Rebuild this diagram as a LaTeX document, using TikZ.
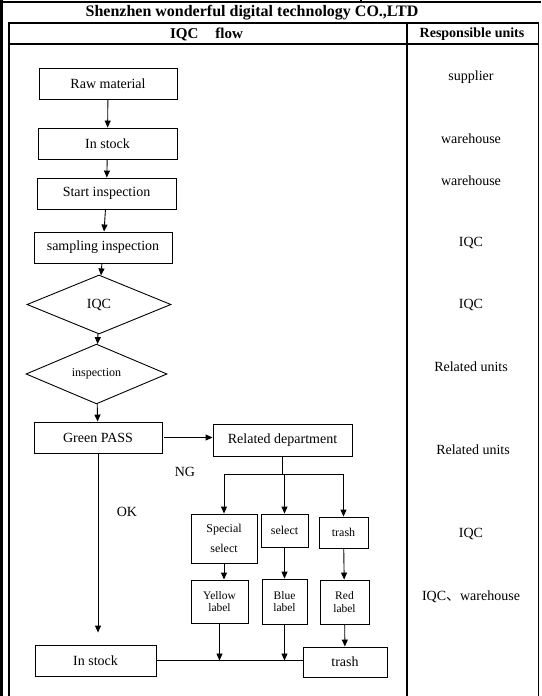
\documentclass[tikz,border=0pt]{standalone}
\usepackage{fontspec}
\setmainfont{Liberation Serif}
\newfontfamily\cjk{Noto Sans CJK SC}
\usetikzlibrary{arrows.meta,shapes.geometric}

\begin{document}
\begin{tikzpicture}[x=1pt, y=-1pt, font=\fontsize{14}{16}\selectfont, >={Triangle[length=7pt,width=6pt]},
	box/.style={draw, line width=0.9pt, inner sep=0pt, align=center},
	dia/.style={draw, diamond, line width=0.9pt, inner sep=0pt},
	frame/.style={line width=1.6pt},
	small/.style={font=\fontsize{12}{13}\selectfont},
	tiny/.style={font=\fontsize{11.5}{12.5}\selectfont},
	flow/.style={->, line width=0.9pt}]
	\useasboundingbox (0,0) rectangle (541,696);
	% table
	\fill (0,0) rectangle (3,696);
	\draw[frame] (3,2) -- (541,2);
	\draw[frame] (361,0) -- (361,2);
	\draw[frame] (9,696) -- (9,23) -- (538.5,23) -- (538.5,696);
	\draw[frame] (9,44) -- (538.5,44);
	\draw[frame] (407,23) -- (407,696);
	\node[font=\bfseries\fontsize{16}{18}\selectfont] (title) at (252,13) {Shenzhen wonderful digital technology CO.,LTD};
	\node[font=\bfseries\fontsize{15}{17}\selectfont] (hflow) at (206.5,34) {IQC\hspace{17pt}flow};
	\node[font=\bfseries\fontsize{14}{16}\selectfont] (hunits) at (472,34) {Responsible units};
	% flow
	\node[box, minimum width=138, minimum height=31] (raw) at (108,83.5) {Raw material};
	\node[box, minimum width=139, minimum height=31] (stock) at (107.5,143.5) {In stock};
	\node[box, minimum width=139, minimum height=31] (start) at (106.5,193.5) {Start inspection};
	\node[box, minimum width=138, minimum height=31] (sampling) at (103,247.5) {sampling inspection};
	\node[dia, minimum width=144, minimum height=59] (iqc) at (99,304.5) {IQC};
	\node[dia, small, minimum width=141, minimum height=52] (insp) at (96.5,374) {inspection};
	\node[box, minimum width=128, minimum height=31] (green) at (98,437.5) {Green PASS};
	\node[box, minimum width=139, minimum height=32] (related) at (282.5,440) {Related department};
	\node[box, small, minimum width=66, minimum height=49] (special) at (224,538.5) {Special\\[7pt]select};
	\node[box, small, minimum width=47, minimum height=33] (select) at (284.5,530.5) {select};
	\node[box, small, minimum width=49, minimum height=31] (trash) at (343.5,532.5) {trash};
	\node[box, tiny, minimum width=57, minimum height=43] (yellow) at (219.5,601.5) {Yellow\\label};
	\node[box, tiny, minimum width=45, minimum height=45] (blue) at (284.5,601.5) {Blue\\label};
	\node[box, tiny, minimum width=49, minimum height=44] (red) at (344.5,602) {Red\\label};
	\node[box, minimum width=121, minimum height=31] (instock) at (95.5,660.5) {In stock};
	\node[box, minimum width=84, minimum height=30] (bin) at (345,662) {trash};
	\node (ng) at (185,472) {NG};
	\node (ok) at (127,512) {OK};
	\coordinate (fork) at (282.5,474);
	% arrows
	\draw[flow] (raw) -- (stock);
	\draw[flow] (stock) -- (start);
	\draw[flow] (start) -- (sampling);
	\draw[flow] (sampling) -- (iqc);
	\draw[flow] (iqc) -- (insp);
	\draw[flow] (insp) -- (green);
	\draw[flow, shorten <=2pt] (green.east) -- (green.east -| related.west);
	\draw[line width=0.9pt] (related.south) -- (fork);
	\draw[line width=0.9pt] (fork -| special.north) -- (fork -| trash.north);
	\draw[flow] (fork -| special.north) -- (special.north);
	\draw[flow] (fork -| select.north) -- (select.north);
	\draw[flow] (fork -| trash.north) -- (trash.north);
	\draw[flow] (special.south) -- (special.south |- yellow.north);
	\draw[flow] (select) -- (blue);
	\draw[flow] (trash) -- (red);
	\draw[flow] (red) -- (bin);
	\draw[flow, shorten >=12pt] (green.south) -- (green.south |- instock.north);
	\draw[line width=0.9pt] (instock.east) -- (instock.east -| bin.west);
	\draw[flow] (yellow.south) -- (yellow.south |- instock.east);
	\draw[flow] (blue.south) -- (blue.south |- instock.east);
	% responsible units
	\node (u1) at (471,77) {supplier};
	\node (u2) at (471,139) {warehouse};
	\node (u3) at (471,181) {warehouse};
	\node (u4) at (471,243) {IQC};
	\node (u5) at (471,305) {IQC};
	\node (u6) at (471,367) {Related units};
	\node (u7) at (473,450) {Related units};
	\node (u8) at (471,534) {IQC};
	\node (u9) at (471,597) {IQC{\cjk 、}warehouse};
\end{tikzpicture}
\end{document}
